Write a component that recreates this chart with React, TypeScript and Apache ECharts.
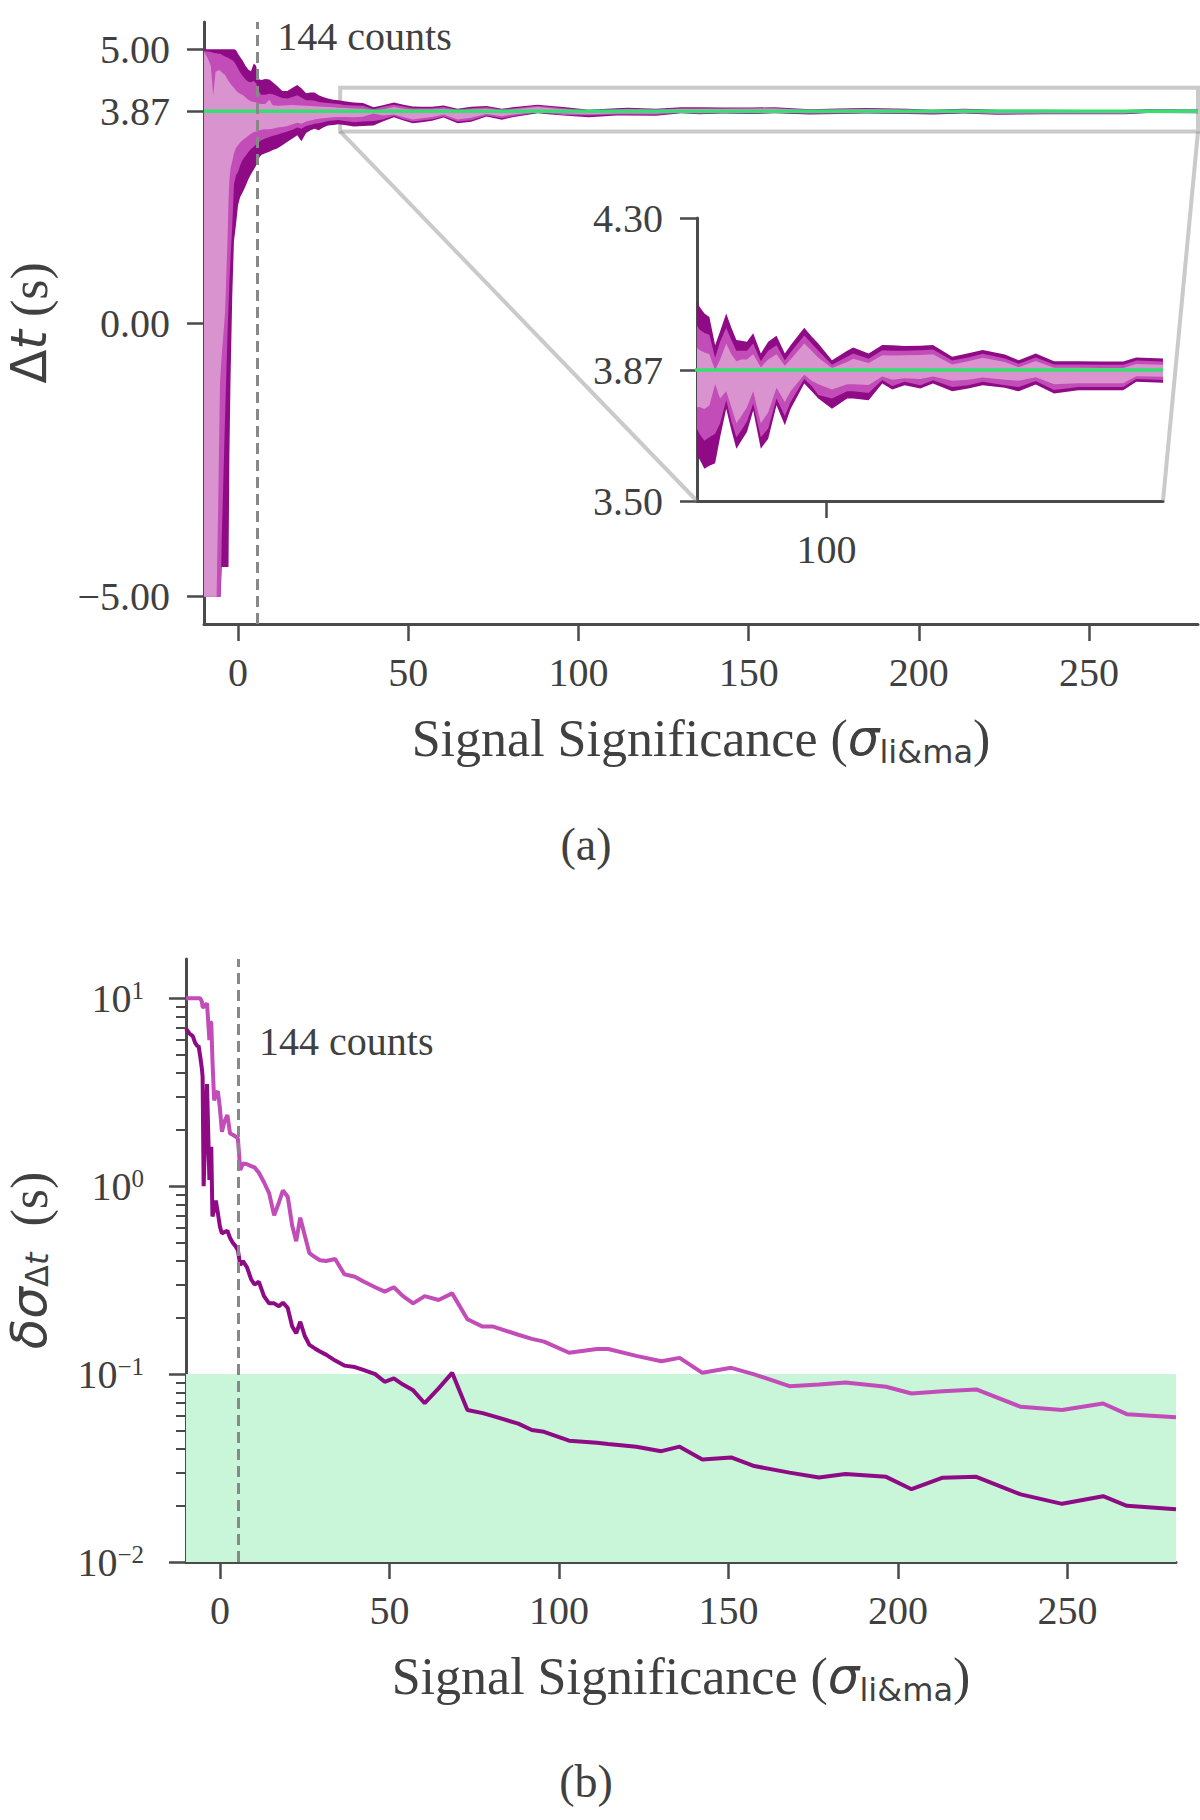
import { useEffect, useRef } from 'react';
import * as echarts from 'echarts';

// signal significance grid (sigma li&ma) shared by both panels
const sig = [
  -10, -9, -8, -7.3, -6.6, -6.3, -5.8, -5.3, -5.1, -4.8,
  -3.8, -3.1, -2.8, -2.55, -2.2, -1.7, -1.2, -0.6, 0, 0.6,
  1.3, 2.2, 3.0, 3.8, 4.6, 5.3, 6.0, 6.8, 8.0, 9.2,
  10.2, 11.5, 13.0, 14.5, 16.0, 17.4, 18.6, 20.0, 21.3, 22.5,
  23.7, 25.0, 26.4, 28.0, 29.5, 31.3, 34.0, 36.7, 39.8, 42.5,
  45.8, 48.6, 51.3, 54.0, 57.0, 60.4, 64.5, 68.5, 73.0, 77.5,
  80.6, 88.0, 92.0, 95.6, 103.0, 111.2, 114.5, 122.8, 130.2, 135.6,
  142.3, 150.8, 157.6, 168.0, 176.7, 184.5, 196.5, 204.0, 213.2, 223.1,
  236.2, 248.4, 260.5, 267.5, 282.0,
];

// panel (a): delay interval edges, outer / middle / inner
const outerHi = [
  5.0, 5.0, 5.0, 5.0, 5.0, 5.0, 5.0, 5.0, 5.0, 5.0,
  5.0, 5.0, 5.0, 5.0, 5.0, 5.0, 5.0, 4.99, 4.92, 4.86,
  4.80, 4.70, 4.63, 4.60, 4.74, 4.70, 4.46, 4.44, 4.46, 4.45,
  4.40, 4.33, 4.24, 4.24, 4.30, 4.35, 4.29, 4.20, 4.21, 4.21,
  4.16, 4.13, 4.10, 4.08, 4.07, 4.05, 4.03, 4.02, 3.94, 3.98,
  4.03, 3.99, 3.955, 3.953, 3.95, 3.974, 3.917, 3.95, 3.967, 3.917,
  3.94, 3.99, 3.965, 3.945, 3.898, 3.925, 3.934, 3.917, 3.941, 3.94,
  3.938, 3.939, 3.941, 3.908, 3.918, 3.927, 3.914, 3.898, 3.917, 3.895,
  3.895, 3.894, 3.894, 3.906, 3.903,
];
const midHi = [
  4.97, 4.96, 4.95, 4.94, 4.93, 4.93, 4.92, 4.92, 4.92, 4.90,
  4.87, 4.85, 4.84, 4.83, 4.82, 4.80, 4.78, 4.72, 4.65, 4.58,
  4.52, 4.45, 4.41, 4.40, 4.42, 4.38, 4.25, 4.17, 4.17, 4.19,
  4.18, 4.15, 4.11, 4.10, 4.13, 4.16, 4.12, 4.07, 4.07, 4.06,
  4.04, 4.03, 4.02, 4.01, 4.00, 3.985, 3.975, 3.97, 3.905, 3.95,
  3.99, 3.955, 3.925, 3.925, 3.925, 3.945, 3.895, 3.925, 3.94, 3.897,
  3.92, 3.968, 3.945, 3.925, 3.885, 3.908, 3.917, 3.902, 3.926, 3.925,
  3.925, 3.926, 3.928, 3.897, 3.906, 3.916, 3.903, 3.888, 3.906, 3.886,
  3.886, 3.885, 3.885, 3.897, 3.894,
];
const innerHi = [
  4.95, 4.85, 4.70, 4.16, 4.59, 4.60, 4.62, 4.62, 4.60, 4.58,
  4.53, 4.45, 4.42, 4.40, 4.37, 4.33, 4.30, 4.25, 4.21, 4.19,
  4.17, 4.12, 4.08, 4.05, 4.04, 4.03, 4.01, 4.00, 4.00, 4.08,
  3.98, 3.97, 3.975, 3.98, 3.985, 3.98, 3.975, 3.97, 3.965, 3.96,
  3.955, 3.95, 3.945, 3.94, 3.935, 3.927, 3.92, 3.915, 3.87, 3.90,
  3.945, 3.915, 3.895, 3.90, 3.90, 3.915, 3.878, 3.90, 3.915, 3.882,
  3.90, 3.945, 3.925, 3.905, 3.876, 3.893, 3.902, 3.89, 3.912, 3.911,
  3.912, 3.913, 3.915, 3.886, 3.895, 3.905, 3.893, 3.878, 3.896, 3.877,
  3.877, 3.876, 3.876, 3.887, 3.885,
];
const innerLo = [
  -5, -5, -5, -5, -5, -5, -3.2, -1.1, -0.9, -0.6,
  0.2, 1.5, 2.23, 2.6, 2.83, 2.95, 3.1, 3.2, 3.25, 3.3,
  3.34, 3.38, 3.42, 3.46, 3.49, 3.5, 3.51, 3.53, 3.54, 3.54,
  3.55, 3.57, 3.58, 3.60, 3.63, 3.66, 3.64, 3.68, 3.70, 3.72,
  3.73, 3.74, 3.75, 3.76, 3.765, 3.766, 3.76, 3.77, 3.83, 3.79,
  3.81, 3.765, 3.72, 3.74, 3.765, 3.81, 3.72, 3.75, 3.82, 3.78,
  3.81, 3.857, 3.84, 3.83, 3.815, 3.83, 3.83, 3.828, 3.852, 3.843,
  3.847, 3.845, 3.852, 3.84, 3.843, 3.849, 3.843, 3.84, 3.85, 3.83,
  3.833, 3.833, 3.833, 3.853, 3.851,
];
const midLo = [
  -5, -5, -5, -5, -5, -5, -5, -5, -5, -3.97,
  -1.7, -0.19, 0.3, 0.72, 1.2, 1.77, 2.53, 2.7, 2.76, 2.88,
  2.98, 3.05, 3.12, 3.18, 3.22, 3.26, 3.30, 3.34, 3.37, 3.40,
  3.42, 3.44, 3.47, 3.50, 3.53, 3.57, 3.55, 3.60, 3.62, 3.64,
  3.65, 3.67, 3.69, 3.70, 3.71, 3.69, 3.67, 3.68, 3.69, 3.72,
  3.785, 3.725, 3.68, 3.70, 3.725, 3.775, 3.68, 3.705, 3.79, 3.74,
  3.78, 3.845, 3.825, 3.80, 3.79, 3.81, 3.81, 3.805, 3.842, 3.825,
  3.837, 3.827, 3.841, 3.822, 3.827, 3.837, 3.827, 3.822, 3.839, 3.814,
  3.822, 3.822, 3.822, 3.845, 3.842,
];
const outerLo = [
  -5, -5, -5, -5, -5, -5, -5, -5, -5, -4.46,
  -4.46, -4.46, -4.46, -2.45, -1.0, 0.5, 1.5, 1.8, 2.15, 2.3,
  2.38, 2.5, 2.62, 2.72, 2.8, 2.88, 3.0, 3.07, 3.1, 3.13,
  3.16, 3.19, 3.25, 3.31, 3.37, 3.43, 3.32, 3.47, 3.52, 3.55,
  3.52, 3.57, 3.61, 3.62, 3.63, 3.619, 3.591, 3.60, 3.607, 3.68,
  3.761, 3.70, 3.648, 3.67, 3.695, 3.756, 3.648, 3.676, 3.771, 3.714,
  3.76, 3.832, 3.81, 3.79, 3.761, 3.79, 3.79, 3.785, 3.832, 3.815,
  3.827, 3.818, 3.832, 3.81, 3.818, 3.827, 3.82, 3.81, 3.829, 3.804,
  3.813, 3.813, 3.813, 3.837, 3.834,
];

// panel (b): uncertainty on the delay width
const sigmaWide = [
  10.0, 10.0, 10.0, 10.0, 10.0, 10.0, 10.0, 9.6, 9.0, 9.0,
  9.4, 6.0, 7.5, 7.4, 4.7, 2.86, 3.11, 3.2, 2.6, 1.95,
  2.2, 2.39, 1.91, 1.88, 1.84, 1.80, 1.22, 1.32, 1.31, 1.28,
  1.26, 1.18, 1.05, 0.92, 0.70, 0.82, 0.95, 0.88, 0.62, 0.51,
  0.68, 0.55, 0.44, 0.42, 0.404, 0.40, 0.41, 0.34, 0.33, 0.31,
  0.29, 0.275, 0.29, 0.26, 0.238, 0.26, 0.248, 0.269, 0.196, 0.179,
  0.179, 0.162, 0.154, 0.149, 0.130, 0.136, 0.136, 0.125, 0.117, 0.122,
  0.1016, 0.108, 0.0997, 0.0863, 0.088, 0.0903, 0.0857, 0.0789, 0.081, 0.0829,
  0.067, 0.0644, 0.0698, 0.0612, 0.0589,
];
const sigmaNarrow = [
  6.9, 6.5, 6.3, 5.8, 5.55, 5.6, 4.9, 4.2, 3.82, 1.0,
  3.5, 1.08, 1.35, 1.62, 0.69, 0.75, 0.84, 0.72, 0.61, 0.56,
  0.57, 0.58, 0.53, 0.50, 0.48, 0.457, 0.38, 0.40, 0.37, 0.32,
  0.30, 0.31, 0.26, 0.238, 0.238, 0.23, 0.24, 0.225, 0.18, 0.165,
  0.19, 0.16, 0.143, 0.137, 0.132, 0.127, 0.118, 0.111, 0.109, 0.105,
  0.100, 0.091, 0.095, 0.088, 0.082, 0.070, 0.084, 0.1016, 0.0644, 0.062,
  0.0598, 0.0545, 0.0504, 0.0493, 0.0442, 0.0431, 0.0425, 0.0411, 0.0389, 0.0411,
  0.0351, 0.036, 0.0324, 0.0299, 0.0282, 0.0294, 0.0284, 0.0244, 0.0281, 0.0284,
  0.0229, 0.0204, 0.0224, 0.0199, 0.0191,
];

const xTicks = [0, 50, 100, 150, 200, 250];
const dtTicks = [-5, 0, 3.87, 5];
const insetXTicks = [100];
const insetYTicks = [3.5, 3.87, 4.3];
const logTicks = [0.01, 0.1, 1, 10];
const logMinor = [
  0.02, 0.03, 0.04, 0.05, 0.06, 0.07, 0.08, 0.09,
  0.2, 0.3, 0.4, 0.5, 0.6, 0.7, 0.8, 0.9,
  2, 3, 4, 5, 6, 7, 8, 9,
];
const trueDelay = 3.87;
const countsSig = 5.5;
const zoomX = [30, 282];
const zoomY = [3.5, 4.3];
const goodBand = [0.01, 0.1];

const SERIF = "'Liberation Serif', 'Times New Roman', serif";
const SANS = "'DejaVu Sans', sans-serif";
const INK = '#404040';
const AXIS = '#4a4a4a';
const DARK = '#8e0b85';
const MID = '#c24cb8';
const LIGHT = '#d993cf';
const GREEN = '#33e070';
const EDGE = 'rgba(128,128,128,0.42)';

const tickText = { fontFamily: SERIF, fontSize: 40, color: INK };
const line = { show: true, onZero: false, lineStyle: { color: AXIS, width: 3 } };
const tick = (vals: number[], length = 17) => ({
  show: true,
  length,
  customValues: vals,
  lineStyle: { color: AXIS, width: 2.5 },
});

const nameRich = (lh: number) => ({
  a: { fontFamily: SERIF, fontSize: 52, color: INK, lineHeight: lh },
  g: { fontFamily: SANS, fontStyle: 'italic', fontSize: 50, color: INK, lineHeight: lh },
  u: { fontFamily: SANS, fontSize: 50, color: INK, lineHeight: lh },
  s: { fontFamily: SANS, fontSize: 32, color: INK, lineHeight: 32, verticalAlign: 'bottom' },
  si: { fontFamily: SANS, fontStyle: 'italic', fontSize: 32, color: INK, lineHeight: 32, verticalAlign: 'bottom' },
});
const sigName = '{a|Signal Significance (}{g|σ}{s|li&ma}{a|)}';

const fmt2 = (v: number) => (v < 0 ? '−' : '') + Math.abs(v).toFixed(2);

function band(lo: number[], hi: number[], color: string, g: number, z: number) {
  return {
    type: 'custom',
    xAxisIndex: g,
    yAxisIndex: g,
    clip: true,
    silent: true,
    z,
    data: [0],
    renderItem: (_p: any, api: any) => {
      const top = sig.map((x, i) => api.coord([x, hi[i]]));
      const bottom = sig.map((x, i) => api.coord([x, lo[i]])).reverse();
      return { type: 'polygon', shape: { points: top.concat(bottom) }, style: { fill: color } };
    },
  };
}

function countsLabel(xi: number, yi: number, y: number, z: number, extra: any = {}) {
  return {
    type: 'scatter',
    xAxisIndex: xi,
    yAxisIndex: yi,
    z,
    silent: true,
    symbolSize: 1,
    itemStyle: { color: 'rgba(0,0,0,0)', opacity: 1 },
    data: [[countsSig, y]],
    label: {
      show: true,
      position: 'right',
      distance: 20,
      formatter: '144 counts',
      opacity: 1,
      ...tickText,
    },
    markLine: {
      silent: true,
      symbol: 'none',
      label: { show: false },
      lineStyle: { color: '#888888', width: 3, type: [11, 6], opacity: 1 },
      data: [{ xAxis: countsSig }],
    },
    ...extra,
  };
}

export default function App() {
  const ref = useRef<HTMLDivElement>(null);

  useEffect(() => {
    if (!ref.current) return;
    const chart = echarts.init(ref.current, null, { renderer: 'svg' });

    chart.setOption({
      animation: false,
      backgroundColor: '#ffffff',
      grid: [
        { left: 204, top: 22, width: 994, height: 602, containLabel: false, outerBoundsMode: 'none' },
        { left: 697, top: 218, width: 466, height: 283, containLabel: false, outerBoundsMode: 'none' },
        { left: 186, top: 959, width: 990, height: 603, containLabel: false, outerBoundsMode: 'none' },
      ],
      xAxis: [
        {
          gridIndex: 0, type: 'value', min: -10, max: 282,
          axisLine: line, axisTick: tick(xTicks), splitLine: { show: false },
          axisLabel: { customValues: xTicks, margin: 28, ...tickText },
          name: sigName, nameLocation: 'middle', nameGap: 84, nameTextStyle: { rich: nameRich(60) },
        },
        {
          gridIndex: 1, type: 'value', min: zoomX[0], max: zoomX[1],
          axisLine: line, axisTick: tick(insetXTicks), splitLine: { show: false },
          axisLabel: { customValues: insetXTicks, margin: 28, ...tickText },
        },
        {
          gridIndex: 2, type: 'value', min: -10, max: 282,
          axisLine: line, axisTick: tick(xTicks), splitLine: { show: false },
          axisLabel: { customValues: xTicks, margin: 28, ...tickText },
          name: sigName, nameLocation: 'middle', nameGap: 84, nameTextStyle: { rich: nameRich(60) },
        },
      ],
      yAxis: [
        {
          gridIndex: 0, type: 'value', min: -5.5, max: 5.5, position: 'left',
          axisLine: line, axisTick: tick(dtTicks), splitLine: { show: false },
          axisLabel: { customValues: dtTicks, margin: 34, formatter: fmt2, ...tickText },
          name: '{u|Δ}{g|t}{a| (s)}', nameLocation: 'middle', nameGap: 151,
          nameTextStyle: { rich: nameRich(48) },
        },
        {
          gridIndex: 1, type: 'value', min: zoomY[0], max: zoomY[1], position: 'left',
          axisLine: line, axisTick: tick(insetYTicks), splitLine: { show: false },
          axisLabel: { customValues: insetYTicks, margin: 34, formatter: fmt2, ...tickText },
        },
        {
          gridIndex: 2, type: 'log', logBase: 10, min: 0.01, max: 16.2, position: 'left',
          axisLine: line, axisTick: tick(logTicks), splitLine: { show: false },
          axisLabel: {
            customValues: logTicks,
            margin: 42,
            formatter: (v: number) => {
              const e = Math.round(Math.log10(v));
              return `{b|10}{p|${e < 0 ? '−' : ''}${Math.abs(e)}}`;
            },
            rich: {
              b: { fontFamily: SERIF, fontSize: 40, color: INK, lineHeight: 40, verticalAlign: 'bottom' },
              p: { fontFamily: SERIF, fontSize: 25, color: INK, lineHeight: 24, verticalAlign: 'top', padding: [0, 0, 27, 0] },
            },
          },
          name: '{g|δσ}{s|Δ}{si|t}{a|  (s)}', nameLocation: 'middle', nameGap: 133,
          nameTextStyle: { rich: nameRich(48) },
        },
        {
          gridIndex: 2, type: 'log', logBase: 10, min: 0.01, max: 16.2, position: 'left',
          axisLine: { show: false, onZero: false }, axisLabel: { show: false }, splitLine: { show: false },
          axisTick: { show: true, length: 10, customValues: logMinor, lineStyle: { color: AXIS, width: 2 } },
        },
      ],
      series: [
        // panel (a)
        band(outerLo, outerHi, DARK, 0, 2),
        band(midLo, midHi, MID, 0, 2),
        band(innerLo, innerHi, LIGHT, 0, 2),
        {
          type: 'line', xAxisIndex: 0, yAxisIndex: 0, z: 3, silent: true, symbol: 'none',
          data: sig.map((x) => [x, trueDelay]),
          lineStyle: { color: GREEN, width: 3.5 },
          markArea: {
            silent: true,
            itemStyle: { color: 'rgba(0,0,0,0)', borderColor: EDGE, borderWidth: 4 },
            data: [[{ coord: [zoomX[0], zoomY[0]] }, { coord: [zoomX[1], zoomY[1]] }]],
          },
        },
        countsLabel(0, 0, 5.24, 4),
        // inset
        band(outerLo, outerHi, DARK, 1, 6),
        band(midLo, midHi, MID, 1, 6),
        band(innerLo, innerHi, LIGHT, 1, 6),
        {
          type: 'line', xAxisIndex: 1, yAxisIndex: 1, z: 7, silent: true, symbol: 'none',
          data: sig.map((x) => [x, trueDelay]),
          lineStyle: { color: GREEN, width: 3.5 },
        },
        // panel (b)
        countsLabel(2, 2, 5.93, 1, {
          markArea: {
            silent: true,
            itemStyle: { color: '#c9f6d9', opacity: 1 },
            data: [[{ yAxis: goodBand[0] }, { yAxis: goodBand[1] }]],
          },
        }),
        {
          type: 'line', xAxisIndex: 2, yAxisIndex: 2, z: 3, silent: true, symbol: 'none',
          data: sig.map((x, i) => [x, sigmaWide[i]]),
          lineStyle: { color: MID, width: 4 },
        },
        {
          type: 'line', xAxisIndex: 2, yAxisIndex: 2, z: 3, silent: true, symbol: 'none',
          data: sig.map((x, i) => [x, sigmaNarrow[i]]),
          lineStyle: { color: DARK, width: 4 },
        },
      ],
    });

    // connector lines from the zoom box to the inset
    const a0 = chart.convertToPixel({ gridIndex: 0 }, [zoomX[0], zoomY[0]]) as number[];
    const a1 = chart.convertToPixel({ gridIndex: 0 }, [zoomX[1], zoomY[0]]) as number[];
    const b0 = chart.convertToPixel({ gridIndex: 1 }, [zoomX[0], zoomY[0]]) as number[];
    const b1 = chart.convertToPixel({ gridIndex: 1 }, [zoomX[1], zoomY[0]]) as number[];
    const caption = (text: string, y: number) => ({
      type: 'text',
      x: 586,
      y,
      style: {
        text, fill: INK, fontFamily: SERIF, fontSize: 46,
        textAlign: 'center', textVerticalAlign: 'middle', align: 'center', verticalAlign: 'middle',
      },
    });
    chart.setOption({
      graphic: [
        { type: 'line', z: 3, shape: { x1: a0[0], y1: a0[1], x2: b0[0], y2: b0[1] }, style: { stroke: EDGE, lineWidth: 4 } },
        { type: 'line', z: 3, shape: { x1: a1[0], y1: a1[1], x2: b1[0], y2: b1[1] }, style: { stroke: EDGE, lineWidth: 4 } },
        caption('(a)', 844),
        caption('(b)', 1781),
      ],
    });

    return () => {
      chart.dispose();
    };
  }, []);

  return (
    <div
      ref={ref}
      style={{ position: 'absolute', left: 0, top: 0, width: 1200, height: 1820, background: '#fff' }}
    />
  );
}
